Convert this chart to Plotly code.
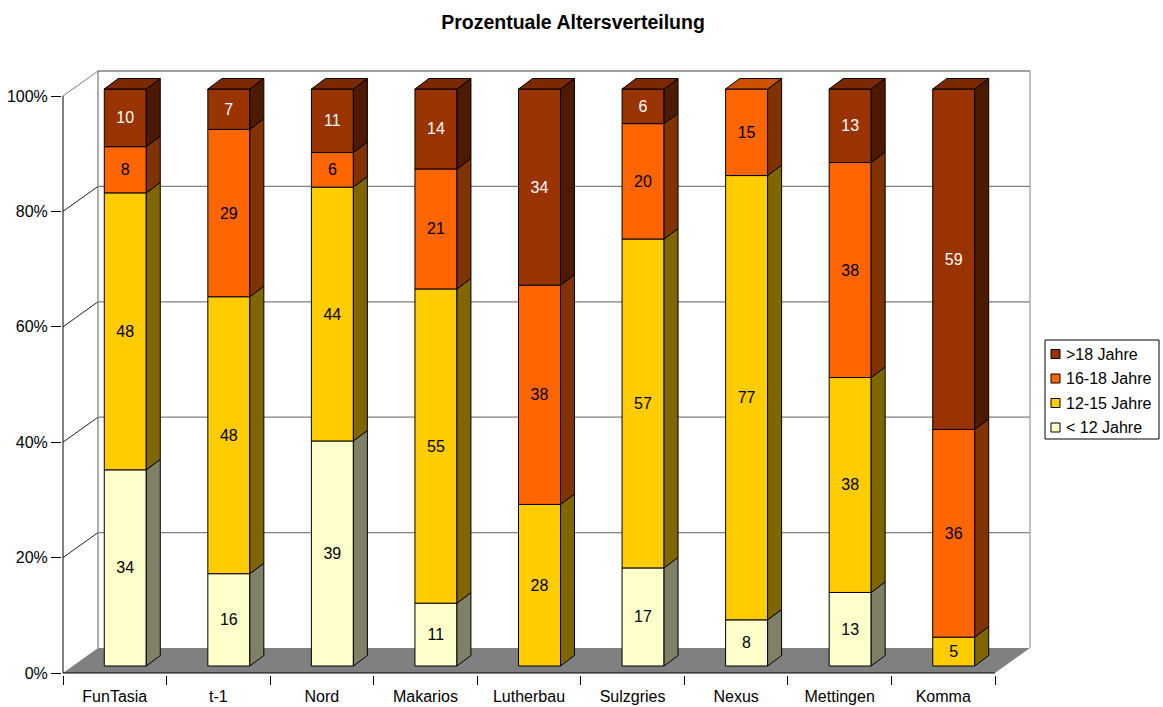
import plotly.graph_objects as go

# ---------------- data ----------------
categories = ["FunTasia", "t-1", "Nord", "Makarios", "Lutherbau", "Sulzgries", "Nexus", "Mettingen", "Komma"]
under12 = [34, 16, 39, 11, 0, 17, 8, 13, 0]
age12_15 = [48, 48, 44, 55, 28, 57, 77, 38, 5]
age16_18 = [8, 29, 6, 21, 38, 20, 15, 38, 36]
over18 = [10, 7, 11, 14, 34, 6, 0, 13, 59]
series_names = ["< 12 Jahre", "12-15 Jahre", "16-18 Jahre", ">18 Jahre"]
y_ticks = [0, 20, 40, 60, 80, 100]
y_tick_labels = ["0%", "20%", "40%", "60%", "80%", "100%"]
title_text = "Prozentuale Altersverteilung"

# ---------------- styles ----------------
front_colors = ["#FFFFCC", "#FFCC00", "#FF6600", "#993300"]
side_colors = ["#808066", "#806600", "#803300", "#4D1A00"]
top_colors = ["#CCCCA3", "#CCA300", "#CC5200", "#7A2900"]
text_colors = ["black", "black", "black", "white"]
FONT = "Liberation Sans, Arial, sans-serif"

# ---------------- geometry (pixels) ----------------
W, H = 1163, 707
AX_L, AX_R, AX_B, AX_T = 63, 995, 673, 96      # front axis frame
DEPTH_X, DEPTH_Y = 35, 25                        # 3-D depth of the floor / walls
PL, PR, PB, PT = 62, 1034, 674.5, 66             # plot area in pixels
BAR_OFF_X, BAR_OFF_Y = 10.5, 7                   # bar front offset into depth
BAR_W, BAR_DX, BAR_DY = 42, 14, 10.5             # bar width and bar depth

n = len(categories)
ppx = (AX_R - AX_L) / n
ppy = (AX_B - AX_T) / 100.0
xr = [-0.5 - (AX_L - PL) / ppx, -0.5 + (PR - AX_L) / ppx]
yr = [-(PB - AX_B) / ppy, (AX_B - PT) / ppy]
DX, DY = DEPTH_X / ppx, DEPTH_Y / ppy
bx, by = BAR_OFF_X / ppx, BAR_OFF_Y / ppy
bw, sdx, sdy = BAR_W / ppx, BAR_DX / ppx, BAR_DY / ppy

series = [under12, age12_15, age16_18, over18]
totals = [sum(s[i] for s in series) for i in range(n)]
heights = [[s[i] / totals[i] * 100 for i in range(n)] for s in series]

fig = go.Figure()

xpos = [i + bx for i in range(n)]
cum = [0.0] * n
sides = [([], []) for _ in series]
tops = [([], []) for _ in series]
for k, s in enumerate(series):
    ys, bases, texts = [], [], []
    for i in range(n):
        h = heights[k][i]
        if s[i] == 0:
            ys.append(None)
            bases.append(None)
            texts.append("")
            continue
        y0 = cum[i] + by
        y1 = y0 + h
        ys.append(h)
        bases.append(y0)
        texts.append(str(s[i]))
        xrgt = xpos[i] + bw / 2
        sx, sy = sides[k]
        sx += [xrgt, xrgt + sdx, xrgt + sdx, xrgt, xrgt, None]
        sy += [y0, y0 + sdy, y1 + sdy, y1, y0, None]
        cum[i] += h
    fig.add_trace(go.Bar(
        x=xpos, y=ys, base=bases, width=bw, name=series_names[k],
        marker=dict(color=front_colors[k], line=dict(color="black", width=1)),
        text=texts, textposition="inside", insidetextanchor="middle",
        textangle=0, constraintext="none",
        textfont=dict(color=text_colors[k], size=16, family=FONT),
        hoverinfo="skip", showlegend=False,
    ))

# top faces: top-most non-zero segment of each bar
for i in range(n):
    k_top = max(k for k in range(len(series)) if series[k][i] > 0)
    yt = 100 + by
    xl = xpos[i] - bw / 2
    xrgt = xpos[i] + bw / 2
    tx, ty = tops[k_top]
    tx += [xl, xl + sdx, xrgt + sdx, xrgt, xl, None]
    ty += [yt, yt + sdy, yt + sdy, yt, yt, None]

for k in range(len(series)):
    sx, sy = sides[k]
    if sx:
        fig.add_trace(go.Scatter(x=sx, y=sy, mode="lines", fill="toself",
                                 fillcolor=side_colors[k], line=dict(color="black", width=1),
                                 hoverinfo="skip", showlegend=False))
    tx, ty = tops[k]
    if tx:
        fig.add_trace(go.Scatter(x=tx, y=ty, mode="lines", fill="toself",
                                 fillcolor=top_colors[k], line=dict(color="black", width=1),
                                 hoverinfo="skip", showlegend=False))

# ---------------- walls, floor, axes ----------------
x0, x1 = -0.5, n - 0.5
shapes = []
shapes.append(dict(type="path", xref="x", yref="y", layer="below",
                   path=f"M {x0},0 L {x1},0 L {x1 + DX},{DY} L {x0 + DX},{DY} Z",
                   fillcolor="#808080", line=dict(width=0)))
for v in y_ticks[1:]:
    shapes.append(dict(type="line", xref="x", yref="y", layer="below",
                       x0=x0 + DX, y0=v + DY, x1=x1 + DX, y1=v + DY,
                       line=dict(color="#808080", width=1.3)))
for v in y_ticks[1:]:
    shapes.append(dict(type="line", xref="x", yref="y", layer="below",
                       x0=x0, y0=v, x1=x0 + DX, y1=v + DY,
                       line=dict(color="#808080" if v == 100 else "#202020", width=1)))
shapes.append(dict(type="line", xref="x", yref="y", layer="below",
                   x0=x0 + DX, y0=DY, x1=x0 + DX, y1=100 + DY,
                   line=dict(color="#808080", width=1.3)))
shapes.append(dict(type="line", xref="x", yref="y", layer="below",
                   x0=x1 + DX, y0=DY, x1=x1 + DX, y1=100 + DY,
                   line=dict(color="#A0A0A0", width=1.3)))
shapes.append(dict(type="line", xref="x", yref="y", layer="above",
                   x0=x0, y0=0, x1=x0, y1=100, line=dict(color="black", width=1)))
shapes.append(dict(type="line", xref="x", yref="y", layer="above",
                   x0=x0, y0=0, x1=x1, y1=0, line=dict(color="black", width=1)))

# ---------------- manual legend ----------------
LG_L, LG_T, LG_R, LG_B = 1045, 340, 1159, 439
ITEM_Y0, ITEM_DY = 354, 24.5
annotations = []
shapes.append(dict(type="rect", xref="paper", yref="paper",
                   x0=LG_L / W, x1=LG_R / W, y0=1 - LG_T / H, y1=1 - LG_B / H,
                   line=dict(color="black", width=1), fillcolor="white"))
for j, k in enumerate(reversed(range(len(series)))):
    cy = ITEM_Y0 + j * ITEM_DY
    shapes.append(dict(type="rect", xref="paper", yref="paper",
                       x0=1051 / W, x1=1060 / W, y0=1 - (cy - 4.5) / H, y1=1 - (cy + 4.5) / H,
                       line=dict(color="black", width=1), fillcolor=front_colors[k]))
    annotations.append(dict(text=series_names[k], xref="paper", yref="paper",
                            x=1064 / W, y=1 - cy / H, xanchor="left", yanchor="middle",
                            showarrow=False, font=dict(size=16, family=FONT, color="black")))

fig.update_layout(
    width=W, height=H, margin=dict(l=0, r=0, t=0, b=0, autoexpand=False),
    paper_bgcolor="white", plot_bgcolor="rgba(0,0,0,0)",
    barmode="overlay", showlegend=False,
    font=dict(family=FONT, size=16, color="black"),
    title=dict(text=f"<b>{title_text}</b>", x=573 / W, xanchor="center",
               y=1 - 22 / H, yanchor="middle", font=dict(size=19.5, family=FONT, color="black")),
    xaxis=dict(domain=[PL / W, PR / W], range=xr, showgrid=False, zeroline=False,
               showline=False, tickmode="array", tickvals=list(range(n)), ticktext=categories,
               ticks="outside", ticklen=7, tickcolor="rgba(0,0,0,0)", automargin=False,
               tickfont=dict(size=16, family=FONT, color="black"),
               minor=dict(ticks="outside", tick0=-0.5, dtick=1, ticklen=9,
                          tickcolor="black", tickwidth=1, showgrid=False),
               fixedrange=True),
    yaxis=dict(domain=[(H - PB) / H, (H - PT) / H], range=yr, showgrid=False, zeroline=False,
               showline=False, tickmode="array", tickvals=y_ticks, ticktext=y_tick_labels,
               ticks="outside", ticklen=10, tickcolor="black", tickwidth=1, automargin=False,
               tickfont=dict(size=16, family=FONT, color="black"), fixedrange=True),
    shapes=shapes, annotations=annotations,
)

fig.write_html("out.html")
